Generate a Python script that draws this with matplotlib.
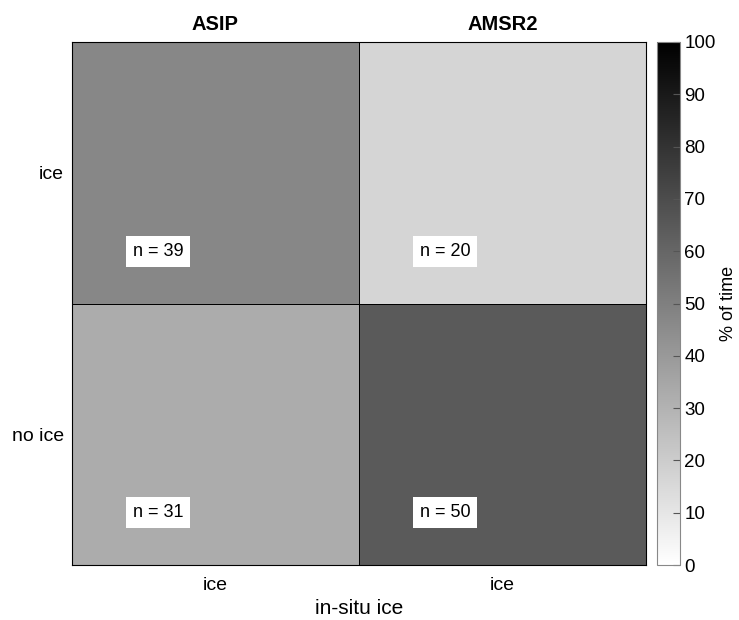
import matplotlib.pyplot as plt
import numpy as np

plt.rcParams['font.family'] = ['Liberation Sans', 'DejaVu Sans']

# Data
products = ['ASIP', 'AMSR2']
row_labels = ['ice', 'no ice']
x_tick_labels = ['ice', 'ice']
# percent of time (rows: ice, no ice; cols: ASIP, AMSR2)
pct_time = np.array([[47.0, 16.5],
                     [32.5, 64.7]])
counts = np.array([[39, 20],
                   [31, 50]])

fig = plt.figure(figsize=(7.39, 6.2), dpi=100)
ax = fig.add_axes([72 / 739, 1 - 565 / 620, (646 - 72) / 739, (565 - 42) / 620])
cax = fig.add_axes([657 / 739, 1 - 565 / 620, 23 / 739, (565 - 42) / 620])

mesh = ax.pcolormesh(np.arange(3), np.arange(3), pct_time, cmap='gray_r',
                     vmin=0, vmax=100, edgecolors='black', linewidth=0.6)
ax.set_xlim(0, 2)
ax.set_ylim(2, 0)

# Count labels in white boxes
for r in range(2):
    for c in range(2):
        ax.text(c + 0.3, r + 0.8, f'n = {counts[r, c]}', ha='center', va='center',
                fontsize=13, bbox=dict(facecolor='white', edgecolor='none', pad=5))

# Column titles
for c, name in enumerate(products):
    ax.text(c + 0.5, -0.03, name, ha='center', va='bottom', fontsize=14.5,
            fontweight='bold')

ax.set_xticks([0.5, 1.5])
ax.set_xticklabels(x_tick_labels, fontsize=14)
ax.set_yticks([0.5, 1.5])
ax.set_yticklabels(row_labels, fontsize=14)
ax.tick_params(axis='x', length=0, pad=9)
ax.tick_params(axis='y', length=0, pad=6)
ax.set_xlabel('in-situ ice', fontsize=15, labelpad=3)
for s in ax.spines.values():
    s.set_linewidth(0.8)

cb = fig.colorbar(mesh, cax=cax)
cb.set_ticks(np.arange(0, 101, 10))
cb.ax.tick_params(direction='in', length=5, color='#555555', labelsize=13.5, pad=3)
cb.outline.set_edgecolor('#888888')
cb.outline.set_linewidth(0.8)
cb.set_label('% of time', fontsize=13, labelpad=3)

fig.savefig('out.png', dpi=100)
